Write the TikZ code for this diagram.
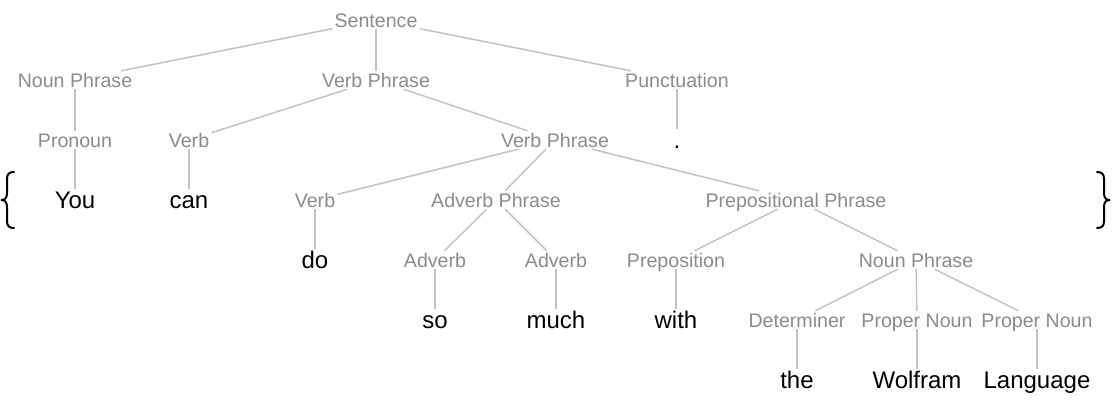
\documentclass[tikz,border=0pt]{standalone}
\usepackage{fontspec}
\setmainfont{Liberation Sans}
\definecolor{lab}{HTML}{8C8C8C}
\definecolor{edgec}{HTML}{C4C4C4}
\begin{document}
\begin{tikzpicture}[x=1pt,y=-1pt,
  cat/.style={text=lab, font=\fontsize{19.6}{22}\selectfont, text height=14pt, text depth=0pt, inner sep=2pt},
  word/.style={text=black, font=\fontsize{24}{28}\selectfont, text height=17pt, text depth=0pt, inner sep=2pt},
  link/.style={draw=edgec, line width=1.5pt},
  bracepath/.style={draw=black, line width=2pt, line cap=round, line join=round}]
\fill[white] (0,0) rectangle (1112,400);
\useasboundingbox (0,0) rectangle (1112,400);
% row 1
\node[cat] (S) at (376,20) {Sentence};
% row 2
\node[cat] (NP1) at (75,80) {Noun Phrase};
\node[cat] (VP1) at (376,80) {Verb Phrase};
\node[cat] (PU) at (677,80) {Punctuation};
% row 3
\node[cat] (PR) at (75,140) {Pronoun};
\node[cat] (V1) at (189,140) {Verb};
\node[cat] (VP2) at (555,140) {Verb Phrase};
\node[word] (DOT) at (677,140) {.};
% row 4
\node[word] (YOU) at (75,200) {You};
\node[word] (CAN) at (189,200) {can};
\node[cat] (V2) at (315,200) {Verb};
\node[cat] (ADVP) at (496,200) {Adverb Phrase};
\node[cat] (PP) at (796,200) {Prepositional Phrase};
% row 5
\node[word] (DO) at (315,260) {do};
\node[cat] (ADV1) at (435,260) {Adverb};
\node[cat] (ADV2) at (556,260) {Adverb};
\node[cat] (PREP) at (676,260) {Preposition};
\node[cat] (NP2) at (916,260) {Noun Phrase};
% row 6
\node[word] (SO) at (435,320) {so};
\node[word] (MUCH) at (556,320) {much};
\node[word] (WITH) at (676,320) {with};
\node[cat] (DET) at (797,320) {Determiner};
\node[cat] (PN1) at (917,320) {Proper Noun};
\node[cat] (PN2) at (1037,320) {Proper Noun};
% row 7
\node[word] (THE) at (797,380) {the};
\node[word] (WOL) at (917,380) {Wolfram};
\node[word] (LANG) at (1037,380) {Language};
% edges
\draw[link] (S) -- (NP1);
\draw[link] (S) -- (VP1);
\draw[link] (S) -- (PU);
\draw[link] (NP1) -- (PR);
\draw[link] (PR) -- (YOU);
\draw[link] (VP1) -- (V1);
\draw[link] (V1) -- (CAN);
\draw[link] (VP1) -- (VP2);
\draw[link] (PU) -- (DOT);
\draw[link] (VP2) -- (V2);
\draw[link] (V2) -- (DO);
\draw[link] (VP2) -- (ADVP);
\draw[link] (VP2) -- (PP);
\draw[link] (ADVP) -- (ADV1);
\draw[link] (ADVP) -- (ADV2);
\draw[link] (ADV1) -- (SO);
\draw[link] (ADV2) -- (MUCH);
\draw[link] (PP) -- (PREP);
\draw[link] (PREP) -- (WITH);
\draw[link] (PP) -- (NP2);
\draw[link] (NP2) -- (DET);
\draw[link] (NP2) -- (PN1);
\draw[link] (NP2) -- (PN2);
\draw[link] (DET) -- (THE);
\draw[link] (PN1) -- (WOL);
\draw[link] (PN2) -- (LANG);
% braces
\draw[bracepath] (14,172) .. controls (9,172) and (7,174) .. (7,179) -- (7,193) .. controls (7,198) and (5,200) .. (1.5,200) .. controls (5,200) and (7,202) .. (7,207) -- (7,221) .. controls (7,226) and (9,228) .. (14,228);
\draw[bracepath] (1097,172) .. controls (1102,172) and (1104,174) .. (1104,179) -- (1104,193) .. controls (1104,198) and (1106,200) .. (1109.5,200) .. controls (1106,200) and (1104,202) .. (1104,207) -- (1104,221) .. controls (1104,226) and (1102,228) .. (1097,228);
\end{tikzpicture}
\end{document}
